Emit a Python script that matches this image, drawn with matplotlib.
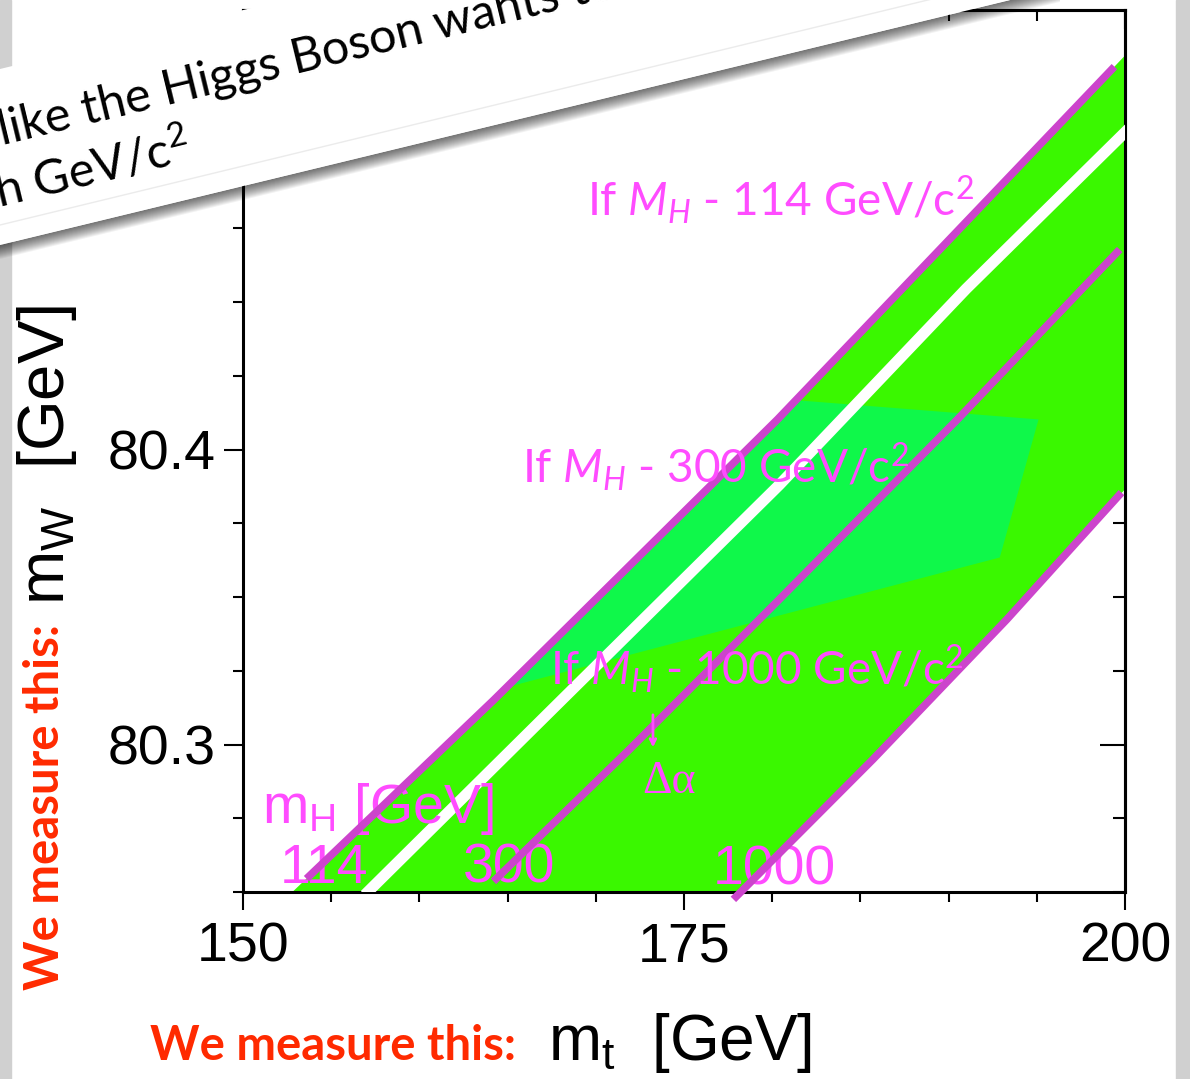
import numpy as np
import matplotlib
matplotlib.use('Agg')
import matplotlib.pyplot as plt
from matplotlib.patches import Polygon, Rectangle
from matplotlib.lines import Line2D
from matplotlib.ticker import MultipleLocator, FormatStrFormatter

plt.rcParams['font.family'] = ['Liberation Sans', 'DejaVu Sans']
plt.rcParams['mathtext.fontset'] = 'custom'
plt.rcParams['mathtext.rm'] = 'Lato'
plt.rcParams['mathtext.it'] = 'Lato:italic'
plt.rcParams['mathtext.bf'] = 'Lato:bold'

# m_W vs m_t lines for the three Higgs masses
mt_114 = [153.6, 164.2, 180.3, 199.4]
mw_114 = [80.2545, 80.3150, 80.4102, 80.5298]
mt_300 = [164.2, 171.9, 180.4, 190.5, 199.7]
mw_300 = [80.2536, 80.2983, 80.3492, 80.4102, 80.4678]
mt_1000 = [177.8, 185.7, 193.3, 199.8]
mw_1000 = [80.2475, 80.2949, 80.3424, 80.3854]

# outline of the green band
band_top_mt = [152.8, 164.2, 180.3, 199.4, 200.5]
band_top_mw = [80.2500, 80.3150, 80.4102, 80.5298, 80.5367]
band_bot_mt = [178.2, 185.7, 193.3, 200.5]
band_bot_mw = [80.2500, 80.2949, 80.3424, 80.3898]

# white gap running through the band
gap_mt = [156.9, 168.1, 180.4, 191.0, 200.3]
gap_mw = [80.2490, 80.3153, 80.3880, 80.4545, 80.5093]

# lighter green patch
fit_mt = [165.0, 181.4, 195.1, 192.9]
fit_mw = [80.3195, 80.4167, 80.4102, 80.3634]

mh_names = ['114', '300', '1000']

W, H = 1190, 1079
def fx(px):
    return px / W
def fy(py):
    return 1 - py / H

fig = plt.figure(figsize=(11.9, 10.79), dpi=100)
fig.patch.set_facecolor('white')

# grey slide edges
fig.add_artist(Rectangle((0, 0), fx(11), 1, transform=fig.transFigure,
                         color='#d0d0d0', zorder=-1))
fig.add_artist(Rectangle((fx(1176), 0), fx(14), 1, transform=fig.transFigure,
                         color='#d0d0d0', zorder=-1))

ax = fig.add_axes([fx(243), fy(892), (1125 - 243) / W, (892 - 10) / H])

ax.fill(band_top_mt + band_bot_mt[::-1], band_top_mw + band_bot_mw[::-1],
        color='#3af800', lw=0, zorder=1)
ax.fill(fit_mt, fit_mw, color='#0ff84a', lw=0, zorder=2)
ax.plot(gap_mt, gap_mw, color='white', lw=8, solid_capstyle='butt', zorder=3)
for mt, mw in [(mt_114, mw_114), (mt_300, mw_300), (mt_1000, mw_1000)]:
    ax.plot(mt, mw, color='#cc44cc', lw=5.5, solid_capstyle='butt',
            zorder=5, clip_on=False)

ax.set_xlim(150, 200)
ax.set_ylim(80.25, 80.549)
ax.xaxis.set_major_locator(MultipleLocator(25))
ax.xaxis.set_minor_locator(MultipleLocator(5))
ax.yaxis.set_major_locator(MultipleLocator(0.1))
ax.yaxis.set_minor_locator(MultipleLocator(0.025))
ax.yaxis.set_major_formatter(FormatStrFormatter('%.1f'))
ax.tick_params(which='both', direction='out', width=1.5, labelsize=40,
               top=False, right=False)
ax.tick_params(axis='y', which='major', length=14, pad=6)
ax.tick_params(axis='y', which='minor', length=7)
ax.tick_params(axis='x', which='major', length=13, pad=8)
ax.tick_params(axis='x', which='minor', length=7)
for s in ax.spines.values():
    s.set_linewidth(2.2)

sec_top = ax.secondary_xaxis('top')
sec_top.xaxis.set_major_locator(MultipleLocator(25))
sec_top.xaxis.set_minor_locator(MultipleLocator(5))
sec_top.tick_params(which='both', direction='in', width=1.5, labeltop=False)
sec_top.tick_params(which='major', length=14)
sec_top.tick_params(which='minor', length=8)
sec_right = ax.secondary_yaxis('right')
sec_right.yaxis.set_major_locator(MultipleLocator(0.1))
sec_right.yaxis.set_minor_locator(MultipleLocator(0.025))
sec_right.tick_params(which='both', direction='in', width=1.5, labelright=False)
sec_right.tick_params(which='major', length=18)
sec_right.tick_params(which='minor', length=8.6)
for sec in (sec_top, sec_right):
    for s in sec.spines.values():
        s.set_linewidth(2.2)

# labels inside the plot
pink = '#ff4cff'
ax.text(151.08, 80.2734, r'm$_\mathregular{H}$ [GeV]', color=pink, fontsize=40,
        va='baseline', zorder=4)
ax.text(152.1, 80.2531, mh_names[0], color=pink, fontsize=40, va='baseline', zorder=4)
ax.text(162.47, 80.2531, mh_names[1], color=pink, fontsize=40, va='baseline', zorder=4)
ax.text(176.64, 80.2524, mh_names[2], color=pink, fontsize=40, va='baseline', zorder=4)

for x, y, m in [(169.5, 80.4792, '114'), (165.82, 80.3886, '300'), (167.4, 80.3202, '1000')]:
    ax.text(x, y, r'If $M_H$ - ' + m + r' GeV/c$^2$', color=pink, fontsize=33,
            family='Lato', va='baseline', zorder=6)

ax.annotate('', xy=(173.24, 80.2981), xytext=(173.24, 80.3110),
            arrowprops=dict(arrowstyle='->', color=pink, lw=2), zorder=6)
ax.text(172.62, 80.2836, '\u0394\u03b1', color=pink, fontsize=33,
        family=['Liberation Serif', 'DejaVu Serif'], va='baseline', zorder=6)

# axis titles
fig.text(fx(47), fy(455), r'm$_\mathregular{W}$  [GeV]', rotation=90,
         ha='center', va='center', fontsize=47)
fig.text(fx(45), fy(807), 'We measure this:', rotation=90, ha='center',
         va='center', fontsize=34, fontweight='bold', family='Lato', color='#ff2a00')
fig.text(fx(150), fy(1060), 'We measure this:', ha='left', va='baseline',
         fontsize=34, fontweight='bold', family='Lato', color='#ff2a00')
fig.text(fx(548), fy(1060), r'm$_\mathregular{t}$  [GeV]', ha='left',
         va='baseline', fontsize=46)

# rotated slide text box with drop shadow
slope = 0.2425
ang = np.degrees(np.arctan(slope))
x0, x1 = -50, 1060
low0, low1 = 245 + 50 * slope, 245 - 1060 * slope
up0, up1 = 69 + 50 * slope, 69 - 1060 * slope
for k in range(1, 15):
    sh = Polygon([(fx(x0), fy(low0)), (fx(x1), fy(low1)),
                  (fx(x1), fy(low1 + k)), (fx(x0), fy(low0 + k))],
                 closed=True, transform=fig.transFigure, color='black',
                 alpha=0.05, lw=0, zorder=10)
    fig.add_artist(sh)
box = Polygon([(fx(x0), fy(low0)), (fx(x1), fy(low1)), (fx(x1), fy(up1)),
               (fx(x0), fy(up0))], closed=True, transform=fig.transFigure,
              facecolor='white', edgecolor='none', zorder=11)
fig.add_artist(box)
fig.add_artist(Line2D([fx(0), fx(x1)], [fy(225), fy(225 - 1060 * slope)],
                      transform=fig.transFigure, color='#ebebeb', lw=1, zorder=11.5))
fig.text(fx(2), fy(145), 'like the Higgs Boson wants to', rotation=ang,
         rotation_mode='anchor', ha='left', va='baseline', fontsize=35,
         family='Lato', zorder=12)
fig.text(fx(-1), fy(208), r'h GeV/c$^2$', rotation=ang, rotation_mode='anchor',
         ha='left', va='baseline', fontsize=35, family='Lato', zorder=12)

fig.savefig('out.png', dpi=100)
